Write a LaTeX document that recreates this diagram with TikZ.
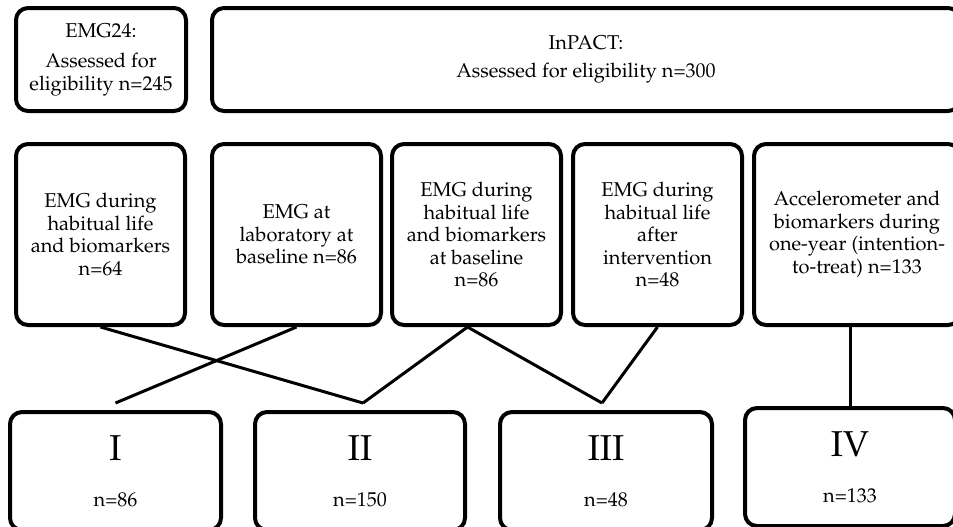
\documentclass[tikz,border=0pt]{standalone}
\usepackage[T1]{fontenc}
\renewcommand{\rmdefault}{ppl}
\usepackage{tikz}
\usetikzlibrary{positioning,calc}

\newcommand{\numeral}[1]{{\fontsize{18}{20}\selectfont #1}}

\begin{document}
\begin{tikzpicture}[
    font=\fontsize{10}{11.25}\selectfont,
    cohort/.style={draw, rounded corners=6pt, line width=2pt, minimum height=51.5pt,
                   align=center, inner sep=2pt},
    dataset/.style={draw, rounded corners=6pt, line width=2pt, minimum width=84.5pt,
                    minimum height=90.5pt, align=center, inner sep=2pt},
    paper/.style={draw, rounded corners=6pt, line width=2pt, minimum width=105.5pt,
                  minimum height=59pt, align=center},
    link/.style={line width=1.5pt},
  ]
    \useasboundingbox (0,0) rectangle (476.5pt,-263pt);

    % --- eligibility ---
    \node[cohort, minimum width=85pt] (emg24) at (50.5pt,-29.75pt)
      {EMG24:\\[4pt]Assessed for\\eligibility n=245};
    \node[cohort, minimum width=374pt, right=11pt of emg24] (inpact)
      {InPACT:\\[2.5pt]Assessed for eligibility n=300};

    % --- data sets ---
    \node[dataset] (habit) at (50.25pt,-117.25pt)
      {EMG during\\habitual life\\and biomarkers\\n=64};
    \node[dataset, right=11.5pt of habit] (lab)
      {EMG at\\laboratory at\\baseline n=86};
    \node[dataset, right=3.5pt of lab] (base)
      {EMG during\\habitual life\\and biomarkers\\at baseline\\n=86};
    \node[dataset, right=4pt of base] (post)
      {EMG during\\habitual life\\after\\intervention\\n=48};
    \node[dataset, minimum width=103pt, right=4pt of post] (accel)
      {Accelerometer and\\biomarkers during\\one-year (intention-\\to-treat) n=133};

    % --- original papers ---
    \node[paper] (pI) at (57.75pt,-235.5pt) {\numeral{I}\\[11.5pt]n=86};
    \node[paper, minimum width=105pt, right=15pt of pI] (pII) {\numeral{II}\\[11.5pt]n=150};
    \node[paper, minimum width=106pt, right=15.5pt of pII] (pIII) {\numeral{III}\\[11.5pt]n=48};
    \node[paper, minimum width=105pt, right=14.5pt of pIII, yshift=2pt] (pIV) {\numeral{IV}\\[11.5pt]n=133};

    % free ends just above the paper boxes
    \coordinate (toI) at ([yshift=3.5pt]pI.north);
    \coordinate (toII) at ([xshift=1.5pt,yshift=3.5pt]pII.north);
    \coordinate (toIII) at ([xshift=-2pt,yshift=3.5pt]pIII.north);
    \coordinate (baseout) at ([xshift=-4.5pt]base.south);

    \draw[link] (habit.south) -- (toII);
    \draw[link] (lab.south) -- (toI);
    \draw[link] (toII) -- (baseout) -- (toIII);
    \draw[link] (post.south) -- (toIII);
    \draw[link] (pIV.north) -- (pIV.north |- accel.south);
  \end{tikzpicture}
\end{document}
